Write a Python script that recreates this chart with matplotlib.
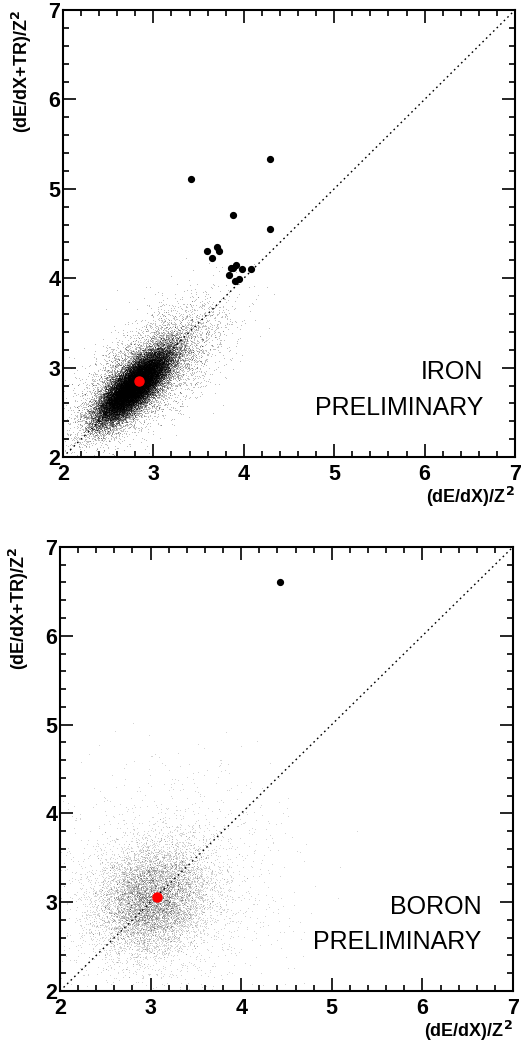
import numpy as np
import matplotlib
matplotlib.use("Agg")
import matplotlib.pyplot as plt
from matplotlib.ticker import MultipleLocator

plt.rcParams['font.family'] = ['Liberation Sans', 'DejaVu Sans']

# iron candidates above the main population (dE/dX, dE/dX+TR)
iron_x = [4.29, 3.42, 3.88, 4.29, 3.59, 3.70, 3.73, 3.65, 3.86, 3.91, 3.88, 3.98, 4.08, 3.84, 3.90, 3.95]
iron_y = [5.33, 5.11, 4.71, 4.55, 4.31, 4.35, 4.31, 4.23, 4.12, 4.15, 4.11, 4.10, 4.10, 4.04, 3.97, 3.99]
iron_mean = (2.84, 2.85)

boron_x = [4.43]
boron_y = [6.61]
boron_mean = (3.07, 3.06)

# background event populations: (n events, centre x, centre y, sigma x, sigma y, correlation)
iron_cloud = [(36000, 2.78, 2.78, 0.20, 0.20, 0.78),
              (6000, 2.95, 2.95, 0.38, 0.36, 0.65)]
boron_cloud = [(8000, 3.02, 3.02, 0.30, 0.30, 0.15),
               (2000, 3.15, 3.15, 0.60, 0.60, 0.10)]


def sample_cloud(spec, seed):
    rng = np.random.default_rng(seed)
    xs, ys = [], []
    for n, mx, my, sx, sy, rho in spec:
        cov = [[sx * sx, rho * sx * sy], [rho * sx * sy, sy * sy]]
        p = rng.multivariate_normal([mx, my], cov, n)
        xs.append(p[:, 0])
        ys.append(p[:, 1])
    return np.concatenate(xs), np.concatenate(ys)


def draw_panel(ax, cloud, alpha, px, py, mean, name, seed):
    cx, cy = sample_cloud(cloud, seed)
    ax.plot(cx, cy, ',', color='black', alpha=alpha, zorder=1)
    ax.plot([2, 7], [2, 7], color='black', lw=1.0, ls=(0, (1.2, 2.4)), zorder=2)
    ax.plot(px, py, 'o', color='black', ms=4.2, zorder=3)
    ax.plot(mean[0], mean[1], 'o', color='red', ms=6.5, zorder=4)
    ax.set_xlim(2, 7)
    ax.set_ylim(2, 7)
    ax.xaxis.set_major_locator(MultipleLocator(1))
    ax.yaxis.set_major_locator(MultipleLocator(1))
    ax.xaxis.set_minor_locator(MultipleLocator(0.2))
    ax.yaxis.set_minor_locator(MultipleLocator(0.2))
    ax.tick_params(which='both', direction='in', top=True, right=True, width=1.2)
    ax.tick_params(which='major', length=9.5, labelsize=15.5)
    ax.tick_params(axis='x', which='major', pad=5)
    ax.tick_params(axis='y', which='major', pad=2)
    ax.tick_params(which='minor', length=4.5)
    for lab in ax.get_xticklabels() + ax.get_yticklabels():
        lab.set_fontweight('bold')
    for s in ax.spines.values():
        s.set_linewidth(1.5)
    ax.set_xlabel('(dE/dX)/Z$^\\mathbf{2}$', fontsize=13, fontweight='bold', loc='right', labelpad=0)
    ax.set_ylabel('(dE/dX+TR)/Z$^\\mathbf{2}$', fontsize=13, fontweight='bold', loc='top', labelpad=10)
    ax.text(0.93, 0.19, name, transform=ax.transAxes, ha='right', va='center', fontsize=18)
    ax.text(0.93, 0.11, 'PRELIMINARY', transform=ax.transAxes, ha='right', va='center', fontsize=18)


fig = plt.figure(figsize=(5.23, 10.43), dpi=100)
ax1 = fig.add_axes([0.1205, 0.5618, 0.8642, 0.4286])
ax2 = fig.add_axes([0.1147, 0.0499, 0.8662, 0.4257])

draw_panel(ax1, iron_cloud, 0.25, iron_x, iron_y, iron_mean, 'IRON', 1)
draw_panel(ax2, boron_cloud, 0.17, boron_x, boron_y, boron_mean, 'BORON', 2)

fig.savefig('out.png', dpi=100)
